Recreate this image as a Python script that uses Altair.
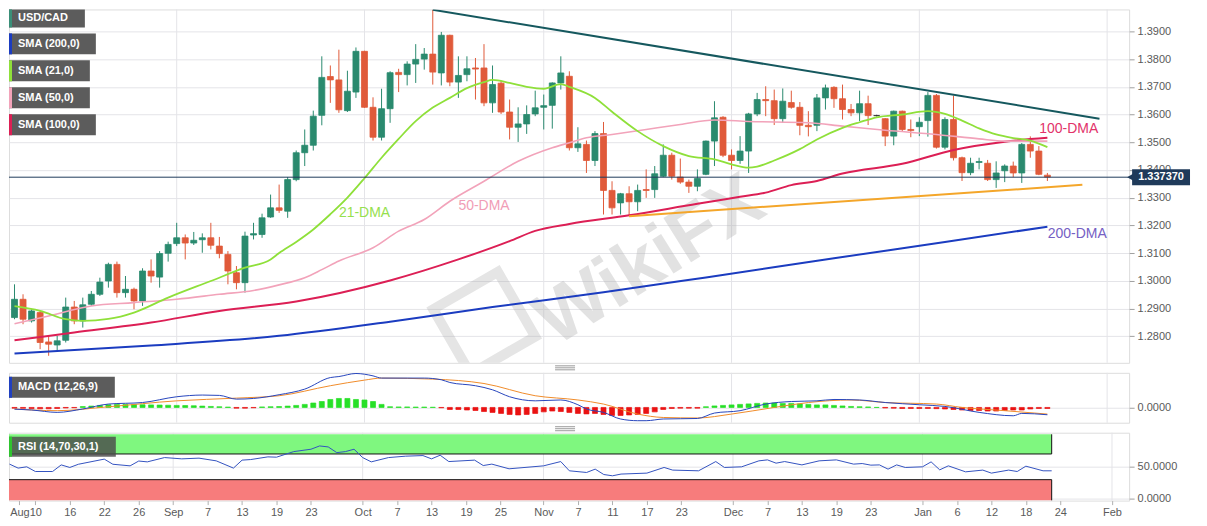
import altair as alt
import pandas as pd

# ---------------- data: x = trading-day index (0 = Wed 10 Aug 2022) ----------------
days = list(range(-3, 119))

opens = [
    1.2867, 1.2933, 1.2855, 1.2885, 1.2779, 1.2768, 1.2785, 1.2905, 1.2855, 1.2915,
    1.2951, 1.2999, 1.3059, 1.2957, 1.2969, 1.2927, 1.3035, 1.3013, 1.3099, 1.3134,
    1.3155, 1.3136, 1.3148, 1.3155, 1.3125, 1.3095, 1.3029, 1.2993, 1.3165, 1.3167,
    1.3230, 1.3263, 1.3251, 1.3365, 1.3462, 1.3489, 1.3597, 1.3737, 1.3725, 1.3614,
    1.3681, 1.3828, 1.3626, 1.3518, 1.3621, 1.3752, 1.3744, 1.3782, 1.3800, 1.3818,
    1.3750, 1.3886, 1.3717, 1.3744, 1.3768, 1.3768, 1.3642, 1.3713, 1.3609, 1.3554,
    1.3566, 1.3602, 1.3626, 1.3633, 1.3714, 1.3738, 1.3480, 1.3492, 1.3434, 1.3531,
    1.3326, 1.3281, 1.3314, 1.3285, 1.3329, 1.3329, 1.3377, 1.3453, 1.3374, 1.3356,
    1.3341, 1.3384, 1.3504, 1.3590, 1.3453, 1.3434, 1.3468, 1.3602, 1.3654, 1.3650,
    1.3585, 1.3643, 1.3626, 1.3561, 1.3561, 1.3660, 1.3698, 1.3657, 1.3618, 1.3606,
    1.3639, 1.3596, 1.3585, 1.3522, 1.3612, 1.3546, 1.3556, 1.3578, 1.3669, 1.3482,
    1.3582, 1.3444, 1.3390, 1.3427, 1.3424, 1.3365, 1.3397, 1.3414, 1.3389, 1.3492,
    1.3468, 1.3381,
]
highs = [
    1.2987, 1.2951, 1.2897, 1.2891, 1.2801, 1.2801, 1.2939, 1.2927, 1.2939, 1.2963,
    1.3011, 1.3065, 1.3069, 1.3017, 1.2975, 1.3045, 1.3077, 1.3107, 1.3141, 1.3209,
    1.3167, 1.3176, 1.3171, 1.3209, 1.3158, 1.3107, 1.3053, 1.3177, 1.3209, 1.3242,
    1.3311, 1.3347, 1.3374, 1.3470, 1.3546, 1.3614, 1.3810, 1.3777, 1.3834, 1.3758,
    1.3842, 1.3830, 1.3662, 1.3693, 1.3756, 1.3765, 1.3792, 1.3854, 1.3840, 1.3978,
    1.3898, 1.3888, 1.3810, 1.3810, 1.3804, 1.3854, 1.3777, 1.3722, 1.3654, 1.3626,
    1.3633, 1.3686, 1.3672, 1.3716, 1.3810, 1.3756, 1.3554, 1.3506, 1.3540, 1.3573,
    1.3359, 1.3317, 1.3341, 1.3347, 1.3402, 1.3414, 1.3492, 1.3462, 1.3441, 1.3365,
    1.3402, 1.3506, 1.3648, 1.3594, 1.3474, 1.3522, 1.3606, 1.3678, 1.3702, 1.3690,
    1.3694, 1.3686, 1.3645, 1.3612, 1.3674, 1.3708, 1.3702, 1.3708, 1.3638, 1.3686,
    1.3668, 1.3599, 1.3587, 1.3614, 1.3614, 1.3582, 1.3590, 1.3681, 1.3674, 1.3590,
    1.3668, 1.3448, 1.3444, 1.3444, 1.3436, 1.3431, 1.3420, 1.3430, 1.3497, 1.3521,
    1.3486, 1.3389,
]
lows = [
    1.2861, 1.2843, 1.2849, 1.2753, 1.2729, 1.2747, 1.2777, 1.2843, 1.2831, 1.2909,
    1.2945, 1.2975, 1.2939, 1.2939, 1.2897, 1.2909, 1.2993, 1.2975, 1.3069, 1.3125,
    1.3077, 1.3129, 1.3101, 1.3113, 1.3081, 1.2987, 1.2969, 1.2957, 1.3149, 1.3155,
    1.3227, 1.3245, 1.3227, 1.3359, 1.3414, 1.3470, 1.3561, 1.3642, 1.3606, 1.3609,
    1.3660, 1.3624, 1.3506, 1.3506, 1.3570, 1.3681, 1.3705, 1.3714, 1.3762, 1.3708,
    1.3705, 1.3702, 1.3660, 1.3720, 1.3654, 1.3630, 1.3606, 1.3602, 1.3510, 1.3501,
    1.3530, 1.3594, 1.3546, 1.3549, 1.3690, 1.3470, 1.3465, 1.3389, 1.3414, 1.3239,
    1.3239, 1.3239, 1.3233, 1.3251, 1.3299, 1.3299, 1.3374, 1.3365, 1.3350, 1.3317,
    1.3323, 1.3381, 1.3414, 1.3446, 1.3402, 1.3422, 1.3389, 1.3594, 1.3594, 1.3562,
    1.3570, 1.3621, 1.3525, 1.3521, 1.3540, 1.3618, 1.3624, 1.3582, 1.3594, 1.3576,
    1.3562, 1.3593, 1.3486, 1.3489, 1.3537, 1.3518, 1.3522, 1.3520, 1.3477, 1.3474,
    1.3434, 1.3360, 1.3381, 1.3402, 1.3360, 1.3335, 1.3356, 1.3374, 1.3353, 1.3444,
    1.3381, 1.3360,
]
closes = [
    1.2933, 1.2861, 1.2891, 1.2777, 1.2771, 1.2783, 1.2905, 1.2855, 1.2913, 1.2951,
    1.2995, 1.3059, 1.2957, 1.2969, 1.2927, 1.3035, 1.3017, 1.3098, 1.3131, 1.3155,
    1.3136, 1.3146, 1.3155, 1.3128, 1.3098, 1.3035, 1.2993, 1.3161, 1.3170, 1.3227,
    1.3263, 1.3254, 1.3365, 1.3462, 1.3489, 1.3594, 1.3734, 1.3725, 1.3617, 1.3684,
    1.3828, 1.3626, 1.3518, 1.3621, 1.3751, 1.3744, 1.3782, 1.3799, 1.3818, 1.3753,
    1.3886, 1.3717, 1.3741, 1.3765, 1.3764, 1.3642, 1.3708, 1.3609, 1.3554, 1.3566,
    1.3600, 1.3624, 1.3632, 1.3714, 1.3750, 1.3480, 1.3494, 1.3434, 1.3531, 1.3326,
    1.3263, 1.3314, 1.3285, 1.3326, 1.3326, 1.3386, 1.3453, 1.3377, 1.3356, 1.3341,
    1.3369, 1.3504, 1.3588, 1.3453, 1.3434, 1.3468, 1.3602, 1.3654, 1.3650, 1.3585,
    1.3648, 1.3626, 1.3561, 1.3556, 1.3660, 1.3696, 1.3657, 1.3618, 1.3606, 1.3639,
    1.3596, 1.3596, 1.3522, 1.3612, 1.3546, 1.3542, 1.3572, 1.3669, 1.3482, 1.3582,
    1.3444, 1.3390, 1.3424, 1.3430, 1.3365, 1.3389, 1.3414, 1.3389, 1.3492, 1.3468,
    1.3384, 1.3374,
]

sma21_days = [-3, 0, 3, 5, 8, 11, 15, 20, 24, 27, 28, 30, 32, 34, 36, 38, 40, 42, 44, 46,
              48, 50, 52, 53, 55, 57, 59, 61, 62, 65, 67, 70, 73, 76, 79, 81, 83, 84, 86, 89,
              91, 94, 96, 98, 101, 104, 106, 108, 110, 112, 114, 116, 118]
sma21_vals = [1.2908, 1.2891, 1.2861, 1.2855, 1.2862, 1.2885, 1.2939, 1.2999, 1.3047, 1.3077,
              1.3100, 1.3140, 1.3185, 1.3240, 1.3300, 1.3370, 1.3444, 1.3512, 1.3576, 1.3625,
              1.3660, 1.3695, 1.3717, 1.3725, 1.3714, 1.3700, 1.3693, 1.3710, 1.3700, 1.3660,
              1.3610, 1.3540, 1.3486, 1.3450, 1.3438, 1.3420, 1.3408, 1.3412, 1.3434, 1.3475,
              1.3510, 1.3552, 1.3572, 1.3590, 1.3600, 1.3612, 1.3602, 1.3578, 1.3550, 1.3528,
              1.3515, 1.3506, 1.3482]
sma50_days = [-3, 1, 6, 11, 16, 21, 25, 28, 31, 33, 35, 39, 42, 45, 48, 52, 56, 60, 62, 64,
              67, 71, 75, 79, 83, 90, 94, 99, 105, 110, 113, 118]
sma50_vals = [1.2845, 1.2873, 1.2909, 1.2921, 1.2933, 1.2951, 1.2965, 1.2985, 1.3011, 1.3040,
              1.3071, 1.3119, 1.3179, 1.3221, 1.3287, 1.3359, 1.3431, 1.3480, 1.3498, 1.3516,
              1.3528, 1.3546, 1.3564, 1.3580, 1.3575, 1.3570, 1.3558, 1.3543, 1.3528, 1.3512,
              1.3504, 1.3504]
sma100_days = [-3, 4, 13, 21, 30, 41, 49, 55, 58, 62, 69, 77, 82, 85, 88, 91, 94, 101, 107, 113, 118]
sma100_vals = [1.2785, 1.2813, 1.2849, 1.2891, 1.2925, 1.3001, 1.3077, 1.3143, 1.3180, 1.3205,
               1.3236, 1.3278, 1.3303, 1.3318, 1.3345, 1.3360, 1.3387, 1.3422, 1.3472, 1.3502, 1.3516]
sma200_days = [-3, 13, 28, 41, 53, 66, 78, 93, 106, 118]
sma200_vals = [1.2737, 1.2766, 1.2801, 1.2852, 1.2905, 1.2958, 1.3012, 1.3081, 1.3140, 1.3195]

res_days = [46, 124.1]
res_vals = [1.3978, 1.3585]
sup_days = [69, 122.1]
sup_vals = [1.3233, 1.3346]

last_price = 1.33737
last_label = "1.337370"

macd_days = [-3, -1, 2, 5, 8, 12, 16, 19, 21, 23, 25, 28, 31, 34, 35, 37, 39, 40, 43, 45,
             47, 48, 51, 53, 55, 58, 61, 63, 64, 66, 68, 70, 71, 73, 77, 79, 82, 85, 88, 91,
             93, 96, 99, 103, 106, 110, 114, 115, 118]
macd_vals = [-0.0010, -0.0015, -0.0029, -0.0009, 0.0020, 0.0029, 0.0063, 0.0073, 0.0071, 0.0049,
             0.0053, 0.0075, 0.0108, 0.0176, 0.0182, 0.0200, 0.0186, 0.0173, 0.0173, 0.0173,
             0.0163, 0.0147, 0.0128, 0.0104, 0.0063, 0.0039, 0.0044, 0.0016, -0.0009, -0.0029,
             -0.0068, -0.0078, -0.0078, -0.0068, -0.0065, -0.0033, -0.0019, 0.0020, 0.0035, 0.0039,
             0.0047, 0.0044, 0.0029, 0.0016, 0.0006, -0.0029, -0.0049, -0.0035, -0.0043]
signal_days = [-3, 2, 8, 16, 23, 28, 34, 38, 40, 46, 52, 58, 63, 66, 70, 73, 77, 81, 86, 90,
               95, 99, 105, 108, 113, 118]
signal_vals = [-0.0009, -0.0019, 0.0004, 0.0039, 0.0055, 0.0069, 0.0128, 0.0161, 0.0173, 0.0167,
               0.0141, 0.0069, 0.0044, 0.0020, -0.0039, -0.0059, -0.0062, -0.0039, 0.0000, 0.0029,
               0.0044, 0.0029, 0.0020, 0.0000, -0.0019, -0.0039]
hist_vals = [
    -0.0004, -0.0005, -0.0006, -0.0008, -0.0008, -0.0006, -0.0003, -0.0002, 0.0005, 0.0008,
    0.0012, 0.0016, 0.0018, 0.0018, 0.0017, 0.0016, 0.0015, 0.0014, 0.0013, 0.0012,
    0.0011, 0.0010, 0.0008, 0.0006, 0.0004, 0.0002, -0.0004, -0.0004, -0.0002, 0.0003,
    0.0004, 0.0005, 0.0008, 0.0012, 0.0018, 0.0026, 0.0035, 0.0047, 0.0053, 0.0053,
    0.0047, 0.0044, 0.0035, 0.0018, 0.0004, 0.0003, 0.0003, 0.0002, 0.0002, 0.0001,
    -0.0002, -0.0012, -0.0012, -0.0015, -0.0018, -0.0024, -0.0029, -0.0035, -0.0041, -0.0044,
    -0.0041, -0.0035, -0.0026, -0.0021, -0.0024, -0.0029, -0.0035, -0.0038, -0.0035, -0.0041,
    -0.0047, -0.0047, -0.0044, -0.0041, -0.0035, -0.0026, -0.0012, -0.0006, -0.0004, -0.0004,
    -0.0004, 0.0004, 0.0009, 0.0012, 0.0015, 0.0018, 0.0021, 0.0024, 0.0026, 0.0026,
    0.0024, 0.0024, 0.0021, 0.0018, 0.0015, 0.0015, 0.0012, 0.0009, 0.0006, 0.0004,
    0.0003, 0.0000, -0.0003, -0.0004, -0.0006, -0.0006, -0.0006, -0.0006, -0.0007, -0.0009,
    -0.0012, -0.0015, -0.0018, -0.0018, -0.0021, -0.0021, -0.0018, -0.0015, -0.0015, -0.0009,
    -0.0006, -0.0006,
]

rsi_days = [-3, -2, -1, 0, 2, 3, 4, 5, 8, 9, 11, 12, 13, 15, 17, 19, 21, 23, 24, 25,
            27, 28, 30, 32, 33, 34, 35, 36, 37, 38, 39, 41, 43, 45, 46, 47, 48, 51, 52, 53,
            55, 59, 61, 62, 64, 65, 66, 67, 68, 71, 73, 74, 77, 79, 80, 82, 84, 85, 86, 87,
            89, 91, 93, 95, 96, 97, 98, 99, 100, 101, 103, 104, 105, 106, 108, 110, 111, 113, 114, 115,
            117, 118]
rsi_vals = [54.2, 48, 50, 42.7, 42.7, 53, 49, 54, 62, 54, 51.5, 59, 57.7, 64.4, 62.4, 63.5, 59.3, 48, 60.4, 61.3,
            65.5, 65, 73.7, 77.4, 82.5, 81, 72.1, 73.7, 77.4, 64.4, 57.7, 64.4, 66.6, 67.5, 62.4, 68.1, 58.2, 60.4, 52, 54.2,
            46.9, 51.5, 58.2, 43.8, 41.2, 46.4, 38, 36, 38.7, 40.2, 49, 44.9, 43.8, 58.2, 49, 50, 59.3, 60.8, 55.7, 58.2,
            53, 59.3, 60.8, 54.2, 55.1, 52.6, 53, 46.4, 53, 49, 50, 57.7, 45.3, 51.5, 42.2, 44.9, 40.2, 44.9, 42.7, 51,
            43.8, 43.8]
rsi_upper = 70
rsi_lower = 30

tick_days = [-1.85, 0, 4, 8, 12, 16, 20, 24, 28, 32, 38, 42, 46, 50, 54, 59, 63, 67, 71, 75,
             81, 85, 89, 93, 97, 103, 107, 111, 115, 119, 125]
tick_labels = ["Aug", "10", "16", "22", "26", "Sep", "7", "13", "19", "23", "Oct", "7", "13", "19", "25",
               "Nov", "7", "11", "17", "23", "Dec", "7", "13", "19", "23", "Jan", "6", "12", "18", "24", "Feb"]
month_days = [16, 38, 59, 81, 103, 125]
price_ticks = [1.28, 1.29, 1.30, 1.31, 1.32, 1.33, 1.34, 1.35, 1.36, 1.37, 1.38, 1.39]

# ---------------- styling ----------------
FONT = "Liberation Sans"
GREEN = "#2a8a6e"
RED = "#e05a3a"
C21 = "#8fe03a"
C50 = "#f2a3ba"
C100 = "#dc1f55"
C200 = "#1b3cc0"
NAVY = "#1f3a5a"
GRID = "#e4e4e8"
LABEL = "#5a5a5a"
W = 1122

xs = alt.Scale(domain=[-3.06, 126.99], nice=False, zero=False)
ys_main = alt.Scale(domain=[1.27036, 1.39793], nice=False, zero=False)
ys_macd = alt.Scale(domain=[-0.0090, 0.0204], nice=False, zero=False)
ys_rsi = alt.Scale(domain=[-2.6, 103.1], nice=False, zero=False)

one = pd.DataFrame({"t": [0]})

yaxis_main = alt.Axis(orient="right", values=price_ticks, format=".4f", grid=True, gridColor=GRID,
                      domain=False, tickSize=5, tickColor="#a0a0a0", labelFontSize=11, labelFont=FONT,
                      labelColor=LABEL, labelPadding=3, labelOverlap=False, title=None)
yaxis_macd = alt.Axis(orient="right", values=[0], format=".4f", grid=True, gridColor=GRID, domain=False,
                      tickSize=5, tickColor="#a0a0a0", labelFontSize=11, labelFont=FONT, labelColor=LABEL,
                      labelPadding=3, labelOverlap=False, title=None)
yaxis_rsi = alt.Axis(orient="right", values=[0, 50], format=".4f", grid=True, gridColor=GRID, domain=False,
                     tickSize=5, tickColor="#a0a0a0", labelFontSize=11, labelFont=FONT, labelColor=LABEL,
                     labelPadding=3, labelOverlap=False, title=None)
label_expr = ("[" + ",".join("'%s'" % s for s in tick_labels) + "][indexof(["
              + ",".join(str(v) for v in tick_days) + "], datum.value)]")
xaxis_rsi = alt.Axis(values=tick_days, labelExpr=label_expr, grid=False, domain=False, tickSize=4,
                     tickColor="#b0b0b0", labelFontSize=11, labelFont=FONT, labelColor=LABEL,
                     labelPadding=2, labelOverlap=False, labelFlush=False, title=None, orient="bottom")


def xenc(field="day", xaxis=None):
    return alt.X(field + ":Q", scale=xs, axis=xaxis)


def yenc(field, scale, yaxis):
    return alt.Y(field + ":Q", scale=scale, axis=yaxis)


# ---------------- main panel ----------------
cdf = pd.DataFrame({"day": days, "o": opens, "h": highs, "l": lows, "c": closes})
cdf["lo"] = cdf[["o", "c"]].min(axis=1)
cdf["hi"] = cdf[["o", "c"]].max(axis=1)
up_df = cdf[cdf["c"] > cdf["o"]]
dn_df = cdf[cdf["c"] < cdf["o"]]
fl_df = cdf[cdf["c"] == cdf["o"]]


def candles(df, color):
    wick = alt.Chart(df).mark_rule(strokeWidth=1, color=color, clip=True).encode(
        x=xenc(), y=yenc("l", ys_main, yaxis_main), y2="h:Q")
    body = alt.Chart(df).mark_bar(size=6, strokeWidth=0.8, color=color, stroke=color, clip=True).encode(
        x=xenc(), y=yenc("lo", ys_main, yaxis_main), y2="hi:Q")
    return [wick, body]


month_df = pd.DataFrame({"day": month_days})


def vgrid(xaxis=None):
    return alt.Chart(month_df).mark_rule(color=GRID, strokeWidth=1).encode(x=xenc("day", xaxis))


wm_df = pd.DataFrame({"t": ["WikiFX"]})
wm_main = alt.Chart(wm_df).mark_text(font=FONT, fontSize=76, fontWeight="bold", angle=328,
                                     color="#b4b4b4", opacity=0.38, clip=True).encode(
    x=alt.value(642), y=alt.value(252), text="t:N")
wm_logo = alt.Chart(one).mark_point(shape="square", filled=False, strokeWidth=10, size=5600, angle=330,
                                    color="#a8a8a8", opacity=0.3, clip=True).encode(
    x=alt.value(476), y=alt.value(314))


def series_line(dd, vv, color, width, scale, yaxis, interp="monotone", xaxis=None):
    df = pd.DataFrame({"day": dd, "v": vv})
    return alt.Chart(df).mark_line(color=color, strokeWidth=width, interpolate=interp, clip=True).encode(
        x=xenc("day", xaxis), y=yenc("v", scale, yaxis))


l200 = series_line(sma200_days, sma200_vals, C200, 2, ys_main, yaxis_main)
l100 = series_line(sma100_days, sma100_vals, C100, 2, ys_main, yaxis_main)
l50 = series_line(sma50_days, sma50_vals, C50, 1.6, ys_main, yaxis_main)
l21 = series_line(sma21_days, sma21_vals, C21, 1.8, ys_main, yaxis_main)
lres = series_line(res_days, res_vals, "#15585e", 2, ys_main, yaxis_main, "linear")
lsup = series_line(sup_days, sup_vals, "#f4a62a", 2, ys_main, yaxis_main, "linear")

pdf = pd.DataFrame({"p": [last_price], "lab": [last_label]})
pline = alt.Chart(pdf).mark_rule(color=NAVY, strokeWidth=1).encode(y=yenc("p", ys_main, yaxis_main))
ptag = alt.Chart(pdf).mark_rule(color=NAVY, strokeWidth=16).encode(
    y=yenc("p", ys_main, yaxis_main), x=alt.value(1125), x2=alt.value(1183))
parrow = alt.Chart(pdf).mark_point(shape="triangle-left", filled=True, size=45, color=NAVY, opacity=1).encode(
    y=yenc("p", ys_main, yaxis_main), x=alt.value(1123))
ptext = alt.Chart(pdf).mark_text(color="white", font=FONT, fontSize=11, fontWeight="bold").encode(
    y=yenc("p", ys_main, yaxis_main), x=alt.value(1154), text="lab:N")

ann_days = [38, 52, 120.5, 121.5]
ann_vals = [1.3244, 1.3269, 1.3547, 1.3168]
ann_labels = ["21-DMA", "50-DMA", "100-DMA", "200-DMA"]
ann_cols = ["#96e04e", "#f19db6", "#e2336a", "#7560c4"]
ann_layers = []
for d, v, lab, col in zip(ann_days, ann_vals, ann_labels, ann_cols):
    ann_layers.append(alt.Chart(pd.DataFrame({"day": [d], "v": [v], "lab": [lab]})).mark_text(
        font=FONT, fontSize=14, color=col).encode(x=xenc(), y=yenc("v", ys_main, yaxis_main), text="lab:N"))


def label_box(x2, y1, y2, text, strip, ty, fill="#5c5c5c", opacity=1.0):
    box = alt.Chart(one).mark_rect(color=fill, opacity=opacity).encode(
        x=alt.value(0), x2=alt.value(x2), y=alt.value(y1), y2=alt.value(y2))
    st = alt.Chart(one).mark_rect(color=strip).encode(
        x=alt.value(0), x2=alt.value(3), y=alt.value(y1), y2=alt.value(y2))
    tx = alt.Chart(pd.DataFrame({"t": [text]})).mark_text(
        font=FONT, fontSize=11, fontWeight="bold", color="white", align="left", baseline="middle").encode(
        x=alt.value(9), y=alt.value(ty), text="t:N")
    return [box, st, tx]


legend_layers = []
legend_layers += label_box(76, 0, 18, "USD/CAD", "#3a8f78", 8.5)
legend_layers += label_box(87, 24, 45, "SMA (200,0)", C200, 34.5)
legend_layers += label_box(81, 51, 72, "SMA (21,0)", C21, 61.5)
legend_layers += label_box(81, 78, 99, "SMA (50,0)", C50, 88.5)
legend_layers += label_box(87, 105, 126, "SMA (100,0)", C100, 115.5)

main = alt.layer(
    vgrid(), wm_logo, wm_main,
    *candles(up_df, GREEN), *candles(dn_df, RED), *candles(fl_df, "#333333"),
    l200, l100, l50, l21, lres, lsup,
    pline, *ann_layers, *legend_layers, ptag, parrow, ptext,
).properties(width=W, height=354)

# ---------------- MACD panel ----------------
hdf = pd.DataFrame({"day": days, "h": hist_vals})
hdf["z"] = 0.0
pos_df = hdf[hdf["h"] >= 0]
neg_df = hdf[hdf["h"] < 0]


def hbars(df, color):
    return alt.Chart(df).mark_bar(size=5, strokeWidth=0.7, color=color, stroke=color, clip=True).encode(
        x=xenc(), y=yenc("h", ys_macd, yaxis_macd), y2="z:Q")


lmacd = series_line(macd_days, macd_vals, "#2745bd", 1, ys_macd, yaxis_macd)
lsig = series_line(signal_days, signal_vals, "#f08c2a", 1, ys_macd, yaxis_macd)


def handle(ys):
    out = []
    for yy in ys:
        out.append(alt.Chart(one).mark_rule(color="#9a9a9a", strokeWidth=1).encode(
            x=alt.value(547), x2=alt.value(567), y=alt.value(yy)))
    return out


macd = alt.layer(
    vgrid(), hbars(pos_df, "#27e027"), hbars(neg_df, "#ea1212"), lsig, lmacd,
    *label_box(106, 4, 25, "MACD (12,26,9)", "#2040c0", 14.5),
    *handle([-7, -5, -3]),
).properties(width=W, height=50)

# ---------------- RSI panel ----------------
def band(y1, y2, color):
    df = pd.DataFrame({"x1": [-4], "x2": [118], "y1": [y1], "y2": [y2]})
    return alt.Chart(df).mark_rect(color=color, clip=True).encode(
        x=xenc("x1", xaxis_rsi), x2="x2:Q", y=yenc("y1", ys_rsi, yaxis_rsi), y2="y2:Q")


hl_df = pd.DataFrame({"x1": [-4, -4], "x2": [118, 118], "y": [rsi_upper, rsi_lower]})
hlines = alt.Chart(hl_df).mark_rule(color="#111111", strokeWidth=1, clip=True).encode(
    x=xenc("x1", xaxis_rsi), x2="x2:Q", y=yenc("y", ys_rsi, yaxis_rsi))
vl_df = pd.DataFrame({"day": [118, 118], "y1": [rsi_upper, -2.6], "y2": [100.6, rsi_lower]})
vlines = alt.Chart(vl_df).mark_rule(color="#111111", strokeWidth=1, clip=True).encode(
    x=xenc("day", xaxis_rsi), y=yenc("y1", ys_rsi, yaxis_rsi), y2="y2:Q")
lrsi = series_line(rsi_days, rsi_vals, "#3352c0", 1, ys_rsi, yaxis_rsi, "linear", xaxis_rsi)

rsi = alt.layer(
    vgrid(xaxis_rsi), band(rsi_upper, 100.6, "#7ff77f"), band(-2.6, rsi_lower, "#f77c7c"),
    hlines, vlines, lrsi,
    *label_box(107, 4, 24, "RSI (14,70,30,1)", "#2fc42f", 14, fill="#4a4a4a", opacity=0.82),
    *handle([-6, -4, -2]),
).properties(width=W, height=68)

chart = alt.vconcat(main, macd, rsi, spacing=10).properties(
    padding=0, bounds="flush", background="white"
).configure_view(fill="#f8f8fa", stroke="#d4d4d8", strokeWidth=1).configure(font=FONT)

chart.save("out.html", embed_options={"renderer": "svg", "actions": False})
